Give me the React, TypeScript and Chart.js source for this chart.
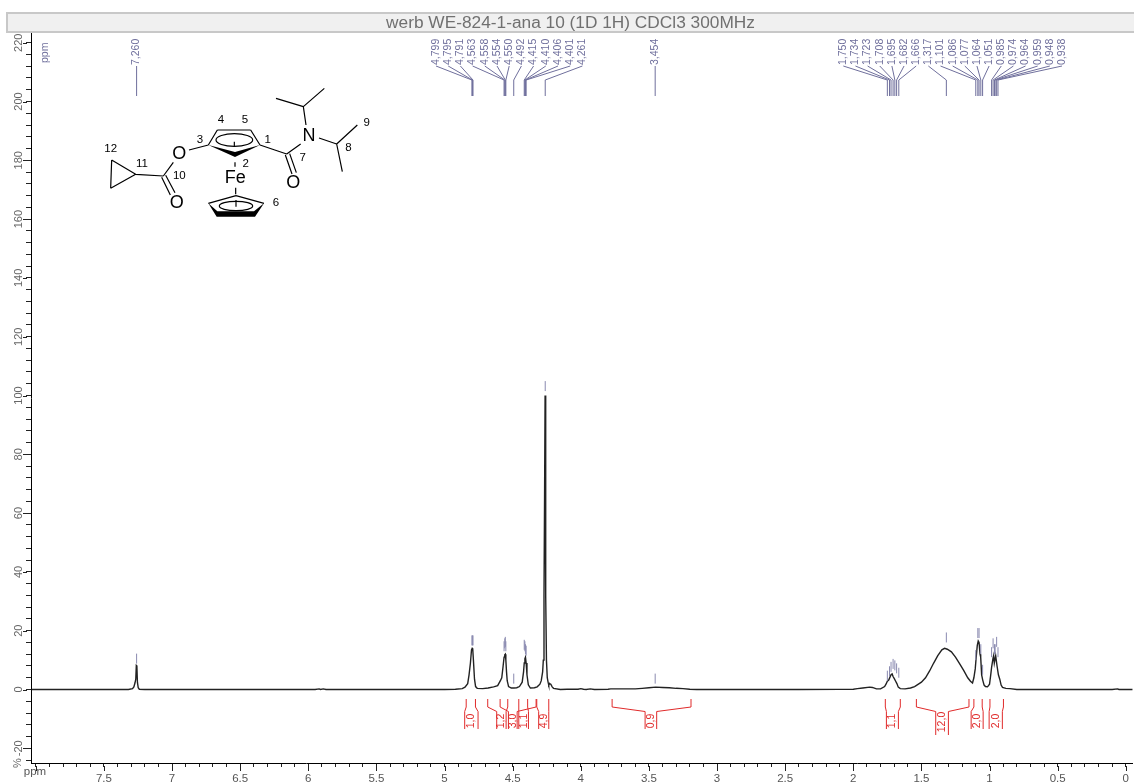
import React, { useEffect, useRef } from "react";
import { Chart, registerables } from "chart.js";

Chart.register(...registerables);

const TITLE = "werb WE-824-1-ana 10 (1D 1H) CDCl3 300MHz";

const spectrumPpm = [
  8.03, 7.6, 7.32, 7.29, 7.28, 7.272, 7.266, 7.262, 7.258, 7.254, 7.248, 7.24, 7.2,
  5.95, 5.92, 5.91, 5.89, 5.87,
  5.0, 4.92, 4.87, 4.85, 4.83, 4.82, 4.81, 4.802, 4.797, 4.793, 4.788, 4.78, 4.772, 4.76, 4.72, 4.68, 4.64,
  4.61, 4.59, 4.58, 4.57, 4.563, 4.558, 4.554, 4.55, 4.545, 4.54, 4.53, 4.51, 4.49, 4.47, 4.45,
  4.43, 4.42, 4.415, 4.41, 4.406, 4.401, 4.395, 4.385, 4.37, 4.34, 4.32, 4.3, 4.29, 4.28, 4.275, 4.27,
  4.266, 4.262, 4.259, 4.256, 4.252, 4.246, 4.24, 4.235, 4.228, 4.22, 4.21, 4.2, 4.15, 4.1,
  4.02, 4.0, 3.98, 3.96, 3.93, 3.9, 3.8, 3.78, 3.6, 3.55, 3.5, 3.45, 3.4, 3.35, 3.3, 3.25, 3.2, 3.15,
  2.4, 2.1, 2.0, 1.97, 1.93, 1.88, 1.86, 1.83, 1.8,
  1.77, 1.76, 1.75, 1.74, 1.73, 1.723, 1.715, 1.708, 1.7, 1.69, 1.68, 1.67, 1.655, 1.62, 1.58, 1.55,
  1.5, 1.47, 1.44, 1.41, 1.38, 1.35, 1.33, 1.31, 1.28, 1.25, 1.22, 1.19, 1.16, 1.14, 1.125,
  1.115, 1.105, 1.098, 1.09, 1.083, 1.077, 1.07, 1.065, 1.058, 1.05, 1.04, 1.03, 1.015,
  1.0, 0.99, 0.985, 0.975, 0.97, 0.965, 0.955, 0.945, 0.935, 0.925, 0.915, 0.905, 0.88, 0.85, 0.8,
  0.1, 0.06, 0.05, -0.05,
];

const spectrumIntensity = [
  0, 0, 0, 0.3, 0.9, 2.2, 3.5, 8.2, 8.0, 2.5, 0.6, 0.1, 0,
  0, 0.2, 0, 0.2, 0,
  0, 0.1, 0.3, 0.8, 2, 5, 9, 13.5, 14, 13.8, 10, 3.5, 1, 0.4, 0.3, 0.5, 0.9,
  1.3, 3, 4, 8, 11, 11.8, 12, 10, 6, 3, 1, 0.5, 0.5, 0.6, 1,
  2.5, 6, 9, 10.5, 11, 9, 5, 1.6, 0.5, 0.6, 0.9, 1.8, 3, 6, 10, 32,
  64, 100, 64, 32, 10, 4, 2.5, 1.5, 2, 1.8, 0.9, 0.4, 0, 0.1,
  0.1, 0.3, 0.1, 0, 0.2, 0, 0.1, 0.2, 0.2, 0.4, 0.6, 0.8, 0.7, 0.6, 0.4, 0.3, 0.1, 0,
  0, 0.05, 0.1, 0.3, 0.5, 0.8, 0.7, 0.2, 0.2,
  1, 1.8, 2.8, 3.2, 4.3, 5, 5.3, 4.4, 3.8, 2.9, 2, 0.8, 0.3, 0.2, 0.5, 1,
  2.5, 4, 6.3, 9, 11.5, 13.5, 14, 13.7, 12.8, 11, 8.8, 6.5, 4, 2.8, 2.2,
  4, 7, 11, 15, 16.5, 16, 12, 11, 5, 3.2, 1.5, 1, 0.9,
  1.8, 5.5, 7.5, 10.5, 11.5, 9, 11.5, 8, 5, 3.5, 1.5, 0.7, 0.4, 0.3, 0,
  0, 0.2, 0, 0,
];

// Peak picks: the ppm of each pick and the % value the pick's tick stands on.
const singlePeakPpm = [7.26, 3.454];
const singlePeakBase = [8.8, 2];
const groupAPpm = [4.799, 4.795, 4.791, 4.563, 4.558, 4.554, 4.55, 4.492, 4.415, 4.41, 4.406, 4.401, 4.261];
const groupABase = [15, 15, 15, 13, 14, 14.5, 13, 2, 13.5, 13, 12, 11.5, 101.5];
const groupBPpm = [1.75, 1.734, 1.723, 1.708, 1.695, 1.682, 1.666, 1.317, 1.101, 1.086, 1.077, 1.064, 1.051, 0.985, 0.974, 0.964, 0.959, 0.948, 0.938];
const groupBBase = [3, 4.5, 6, 7, 6.5, 5.5, 4, 16, 10, 17.5, 17.5, 12, 5, 11, 14, 12, 12, 14.5, 11];

// Integrals: label, start and end ppm, and the ppm of the two legs round the label.
const integralLabels = ["1,0", "1,2", "3,0", "1,1", "4,9", "0,9", "1,1", "12,0", "2,0", "2,0"];
const integralFrom = [4.841, 4.683, 4.592, 4.455, 4.323, 3.77, 1.765, 1.537, 1.115, 0.997];
const integralTo = [4.773, 4.536, 4.328, 4.39, 4.235, 3.191, 1.655, 1.151, 1.054, 0.898];
const integralLegFrom = [4.852, 4.617, 4.531, 4.455, 4.309, 3.528, 1.757, 1.395, 1.135, 1.003];
const integralLegTo = [4.754, 4.548, 4.467, 4.384, 4.235, 3.443, 1.669, 1.302, 1.047, 0.906];

// Molecule drawing, in units of a third of a pixel.
const molLines = [
  [625, 435, 652, 390], [652, 390, 752, 390], [752, 390, 780, 435],
  [703, 425, 703, 438], [780, 435, 860, 462], [860, 462, 902, 432],
  [856, 465, 876, 522], [869, 461, 889, 518],
  [918, 375, 910, 320], [910, 320, 828, 295], [910, 320, 973, 265],
  [957, 414, 1010, 432], [1010, 432, 1072, 375], [1010, 432, 1027, 515],
  [567, 450, 625, 435], [520, 487, 490, 528], [490, 528, 407, 523],
  [407, 523, 335, 480], [335, 480, 332, 565], [332, 565, 407, 523],
  [485, 532, 511, 585], [497, 526, 525, 578],
  [705, 487, 705, 500], [707, 563, 707, 583],
  [625, 610, 708, 587], [708, 587, 792, 610], [708, 600, 708, 620],
];
const molFills = [
  [[625, 435], [705, 456], [780, 435], [705, 471]],
  [[625, 610], [650, 650], [765, 650], [792, 610], [762, 634], [652, 634]],
];
const molEllipses = [[703, 420, 55, 19], [708, 618, 50, 14]];
const molAtoms: [string, number, number][] = [
  ["O", 538, 462], ["O", 530, 608], ["O", 880, 548], ["N", 927, 408], ["Fe", 706, 533],
];
const molNumbers: [string, number, number][] = [
  ["1", 803, 418], ["2", 737, 490], ["3", 600, 418], ["4", 663, 360], ["5", 735, 360], ["6", 828, 607],
  ["7", 908, 472], ["8", 1045, 442], ["9", 1100, 367], ["10", 538, 528], ["11", 426, 491], ["12", 332, 447],
];

const FONT = '"Liberation Sans", Arial, sans-serif';
const PEAK = "#6f6f9c";
const RED = "#e02a2a";

const isMult = (v: number, m: number) => Math.abs(v / m - Math.round(v / m)) < 1e-6;

const nmrPlugin = {
  id: "nmr",
  beforeDraw(chart: any) {
    const { ctx } = chart;
    ctx.save();
    ctx.fillStyle = "#f0f0f0";
    ctx.strokeStyle = "#c8c8c8";
    ctx.lineWidth = 2;
    ctx.fillRect(7, 13, 1127, 19);
    ctx.strokeRect(7, 13, 1135, 19);
    ctx.restore();
  },
  afterDraw(chart: any) {
    const { ctx, scales } = chart;
    const xs = scales.x;
    const ys = scales.y;
    const px = (v: number) => xs.getPixelForValue(v);
    const py = (v: number) => ys.getPixelForValue(v);
    const vtext = (t: string, x: number, y: number, font: string, color: string, align: CanvasTextAlign = "left") => {
      ctx.save();
      ctx.translate(x, y);
      ctx.rotate(-Math.PI / 2);
      ctx.font = font;
      ctx.fillStyle = color;
      ctx.textAlign = align;
      ctx.textBaseline = "middle";
      ctx.fillText(t, 0, 0);
      ctx.restore();
    };
    ctx.save();

    // longer major ticks
    ctx.strokeStyle = "#222";
    ctx.lineWidth = 1;
    ctx.beginPath();
    xs.ticks.forEach((t: any) => {
      if (isMult(t.value, 0.5)) {
        const x = Math.round(px(t.value)) + 0.5;
        ctx.moveTo(x, xs.top + 3);
        ctx.lineTo(x, xs.top + 8);
      }
    });
    ys.ticks.forEach((t: any) => {
      if (isMult(t.value, 20)) {
        const y = Math.round(py(t.value)) + 0.5;
        ctx.moveTo(ys.right - 4, y);
        ctx.lineTo(ys.right - 8, y);
      }
    });
    ctx.stroke();

    // peak picks
    const drawPick = (ppm: number, base: number, labelX: number) => {
      const x = px(ppm);
      ctx.strokeStyle = PEAK;
      ctx.lineWidth = 1;
      ctx.beginPath();
      ctx.moveTo(labelX, 66);
      ctx.lineTo(x, 80);
      ctx.lineTo(x, 96);
      ctx.stroke();
      const b = py(base);
      ctx.strokeStyle = "#8a8ab0";
      ctx.beginPath();
      ctx.moveTo(x, b);
      ctx.lineTo(x, b - 10);
      ctx.stroke();
      vtext(ppm.toFixed(3).replace(".", ","), labelX, 65, `10.5px ${FONT}`, PEAK);
    };
    singlePeakPpm.forEach((p, i) => drawPick(p, singlePeakBase[i], px(p)));
    groupAPpm.forEach((p, i) => drawPick(p, groupABase[i], 436 + i * 12.2));
    groupBPpm.forEach((p, i) => drawPick(p, groupBBase[i], 843.3 + i * 12.15));

    // integrals
    ctx.strokeStyle = RED;
    ctx.lineWidth = 1;
    integralLabels.forEach((lab, i) => {
      const a = px(integralFrom[i]);
      const b = px(integralTo[i]);
      const la = px(integralLegFrom[i]);
      const lb = px(integralLegTo[i]);
      const bottom = lab.length > 3 ? 735 : 729;
      ctx.beginPath();
      ctx.moveTo(a, 699);
      ctx.lineTo(a, 707);
      ctx.lineTo(la, 711.5);
      ctx.lineTo(la, bottom);
      ctx.moveTo(b, 699);
      ctx.lineTo(b, 707);
      ctx.lineTo(lb, 711.5);
      ctx.lineTo(lb, bottom);
      ctx.stroke();
      vtext(lab, (la + lb) / 2, lab.length > 3 ? 722 : 721, `10.5px ${FONT}`, RED, "center");
    });

    // axis captions
    vtext("ppm", 45, 63, `10.5px ${FONT}`, PEAK);
    vtext("%", 18, 768, `11px ${FONT}`, "#666");
    ctx.font = `11.5px ${FONT}`;
    ctx.fillStyle = "#555";
    ctx.textAlign = "center";
    ctx.textBaseline = "middle";
    ctx.fillText("ppm", 35, 772);

    // molecule
    const k = 1 / 3;
    ctx.strokeStyle = "#000";
    ctx.fillStyle = "#000";
    ctx.lineWidth = 1.2;
    ctx.beginPath();
    molLines.forEach(([a, b, c, d]) => {
      ctx.moveTo(a * k, b * k);
      ctx.lineTo(c * k, d * k);
    });
    ctx.stroke();
    molEllipses.forEach(([x, y, rx, ry]) => {
      ctx.beginPath();
      ctx.ellipse(x * k, y * k, rx * k, ry * k, 0, 0, Math.PI * 2);
      ctx.stroke();
    });
    molFills.forEach((poly) => {
      ctx.beginPath();
      poly.forEach(([x, y], i) => (i ? ctx.lineTo(x * k, y * k) : ctx.moveTo(x * k, y * k)));
      ctx.closePath();
      ctx.fill();
    });
    ctx.textAlign = "center";
    ctx.textBaseline = "middle";
    ctx.font = `18px ${FONT}`;
    molAtoms.forEach(([t, x, y]) => ctx.fillText(t, x * k, y * k));
    ctx.font = `11.5px ${FONT}`;
    molNumbers.forEach(([t, x, y]) => ctx.fillText(t, x * k, y * k));
    ctx.restore();
  },
};

export default function App() {
  const ref = useRef<HTMLCanvasElement | null>(null);
  useEffect(() => {
    if (!ref.current) return;
    const chart = new Chart(ref.current, {
      type: "line",
      data: {
        datasets: [
          {
            data: spectrumPpm.map((x, i) => ({ x, y: spectrumIntensity[i] })),
            borderColor: "#222",
            borderWidth: 1.4,
            pointRadius: 0,
            tension: 0,
            fill: false,
            parsing: false,
          } as any,
        ],
      },
      options: {
        animation: false,
        responsive: false,
        maintainAspectRatio: false,
        layout: { padding: { left: 7, right: 0, top: 0, bottom: 0 } },
        plugins: {
          legend: { display: false },
          tooltip: { enabled: false },
          title: {
            display: true,
            text: TITLE,
            color: "#707070",
            font: { family: FONT, size: 17.3, weight: "normal", lineHeight: 1 },
            padding: { top: 14.7, bottom: 1 },
          },
        },
        scales: {
          x: {
            type: "linear",
            reverse: true,
            min: -0.051,
            max: 8.035,
            afterFit: (s: any) => {
              s.height = 19;
            },
            border: { display: true, color: "#000", width: 1 },
            grid: { drawOnChartArea: false, drawTicks: true, tickLength: 4, tickColor: "#222" },
            ticks: {
              stepSize: 0.1,
              autoSkip: false,
              includeBounds: false,
              maxRotation: 0,
              minRotation: 0,
              padding: 5,
              color: "#555",
              font: { family: FONT, size: 11.5 },
              callback: (v: any) => {
                const n = Number(v);
                if (!isMult(n, 0.5) || n > 7.9) return "";
                return String(Math.round(n * 10) / 10);
              },
            },
          } as any,
          y: {
            type: "linear",
            min: -25,
            max: 223.3,
            afterFit: (s: any) => {
              s.width = 24;
            },
            border: { display: true, color: "#000", width: 1 },
            grid: { drawOnChartArea: false, drawTicks: true, tickLength: 5, tickColor: "#222" },
            ticks: {
              stepSize: 4,
              autoSkip: false,
              includeBounds: false,
              minRotation: 90,
              maxRotation: 90,
              crossAlign: "center",
              padding: -2,
              color: "#666",
              font: { family: FONT, size: 11 },
              callback: (v: any) => (isMult(Number(v), 20) ? String(Math.round(Number(v))) : ""),
            },
          } as any,
        },
      },
      plugins: [nmrPlugin],
    } as any);
    return () => chart.destroy();
  }, []);
  return (
    <canvas
      ref={ref}
      width={1134}
      height={782}
      style={{ position: "fixed", left: 0, top: 0, width: 1134, height: 782, display: "block", background: "#fff" }}
    />
  );
}
